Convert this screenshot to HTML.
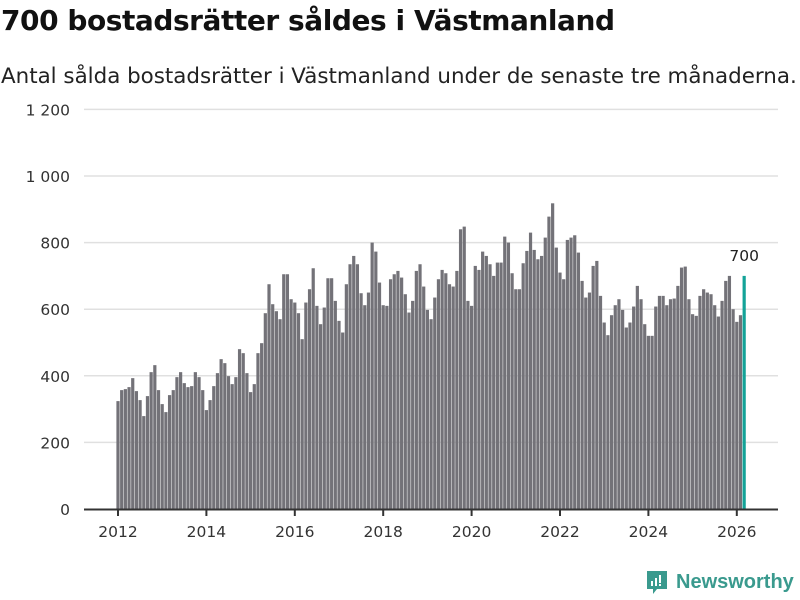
<!DOCTYPE html>
<html><head><meta charset="utf-8"><style>
body{margin:0;width:800px;height:600px;background:#fff;font-family:"DejaVu Sans","Liberation Sans",sans-serif;overflow:hidden;position:relative}
#title{position:absolute;left:1px;top:4px;font-size:28px;font-weight:bold;color:#111;letter-spacing:-0.45px}
#sub{position:absolute;left:1px;top:64px;font-size:21.4px;color:#222;white-space:nowrap}
#logo{position:absolute;left:645px;top:569px;display:flex;align-items:center}
#logo span{font-size:20px;color:#3a9a8e;font-weight:bold;margin-left:7px;font-family:"Liberation Sans",sans-serif}
</style></head><body>
<div id="title">700 bostadsrätter såldes i Västmanland</div>
<div id="sub">Antal sålda bostadsrätter i Västmanland under de senaste tre månaderna.</div>
<svg id="chart" width="800" height="600" style="position:absolute;left:0;top:0"></svg>
<div id="logo">
<svg width="24" height="26" viewBox="0 0 24 26"><path d="M2 2h20v18h-10l-4 5v-5h-6z" fill="#3a9a8e"/><rect x="6" y="12" width="2" height="5" fill="#fff"/><rect x="10" y="9" width="2" height="8" fill="#fff"/><rect x="14" y="6" width="2" height="8" fill="#fff"/><rect x="14" y="15" width="2" height="2" fill="#fff"/></svg>
<span>Newsworthy</span></div>
<script>
const values=[324,357,360,366,393,354,327,279,339,411,432,357,315,291,342,357,396,411,378,366,369,411,396,357,297,327,369,408,450,438,399,375,396,480,468,408,351,375,468,498,588,675,615,594,570,
705,705,630,620,588,510,620,660,723,610,555,605,693,693,625,565,530,675,735,760,735,648,612,650,800,773,680,612,610,690,705,715,695,645,590,625,715,735,668,598,570,635,690,718,708,675,668,715,840,848,625,610,730,718,773,760,735,700,740,740,818,800,708,660,660,738,775,830,778,750,760,815,878,918,785,710,690,808,815,822,770,685,635,650,730,745,640,560,522,582,612,630,598,545,560,608,670,630,555,520,520,608,640,640,612,630,632,670,725,728,630,585,580,640,660,650,645,612,578,625,685,700,600,562,582,700];
const yTicks=[0,200,400,600,800,1000,1200];
const yTickLabels=["0","200","400","600","800","1 000","1 200"];
const xTicks=[2012,2014,2016,2018,2020,2022,2024,2026];
const svg=document.getElementById('chart');const NS='http://www.w3.org/2000/svg';
const y=v=>509-v*0.333;
const x=i=>118+(i/12)*44.2;
function mk(t,a){const e=document.createElementNS(NS,t);for(const k in a)e.setAttribute(k,a[k]);svg.appendChild(e);return e;}
yTicks.forEach((v,i)=>{
 if(v>0){const g=mk('line',{x1:84,x2:778,y1:y(v),y2:y(v),stroke:'#e0e0e0','stroke-width':1.5});
 
 }
 const t=mk('text',{x:70,y:y(v)+6,'text-anchor':'end','font-size':15.5,fill:'#333'});t.textContent=yTickLabels[i];
 
 
});
values.forEach((v,i)=>{
 const last=i===values.length-1;
 const r=mk('rect',{x:x(i)-1.6,y:y(v),width:3.2,height:509-y(v),fill:last?'#13a398':'#737278'});
 
 
 if(last){const t=mk('text',{x:x(i),y:y(v)-15,'text-anchor':'middle','font-size':15.5,fill:'#222'});t.textContent=v;
 
 }
});
const ax=mk('line',{x1:84,x2:778,y1:509.5,y2:509.5,stroke:'#333','stroke-width':2});


xTicks.forEach(yr=>{
 const xx=x((yr-2012)*12);
 const tk=mk('line',{x1:xx,x2:xx,y1:509,y2:516,stroke:'#333','stroke-width':2});
 
 
 const t=mk('text',{x:xx,y:537,'text-anchor':'middle','font-size':15.5,fill:'#333'});t.textContent=yr;
 
 
});
</script>
</body></html>
